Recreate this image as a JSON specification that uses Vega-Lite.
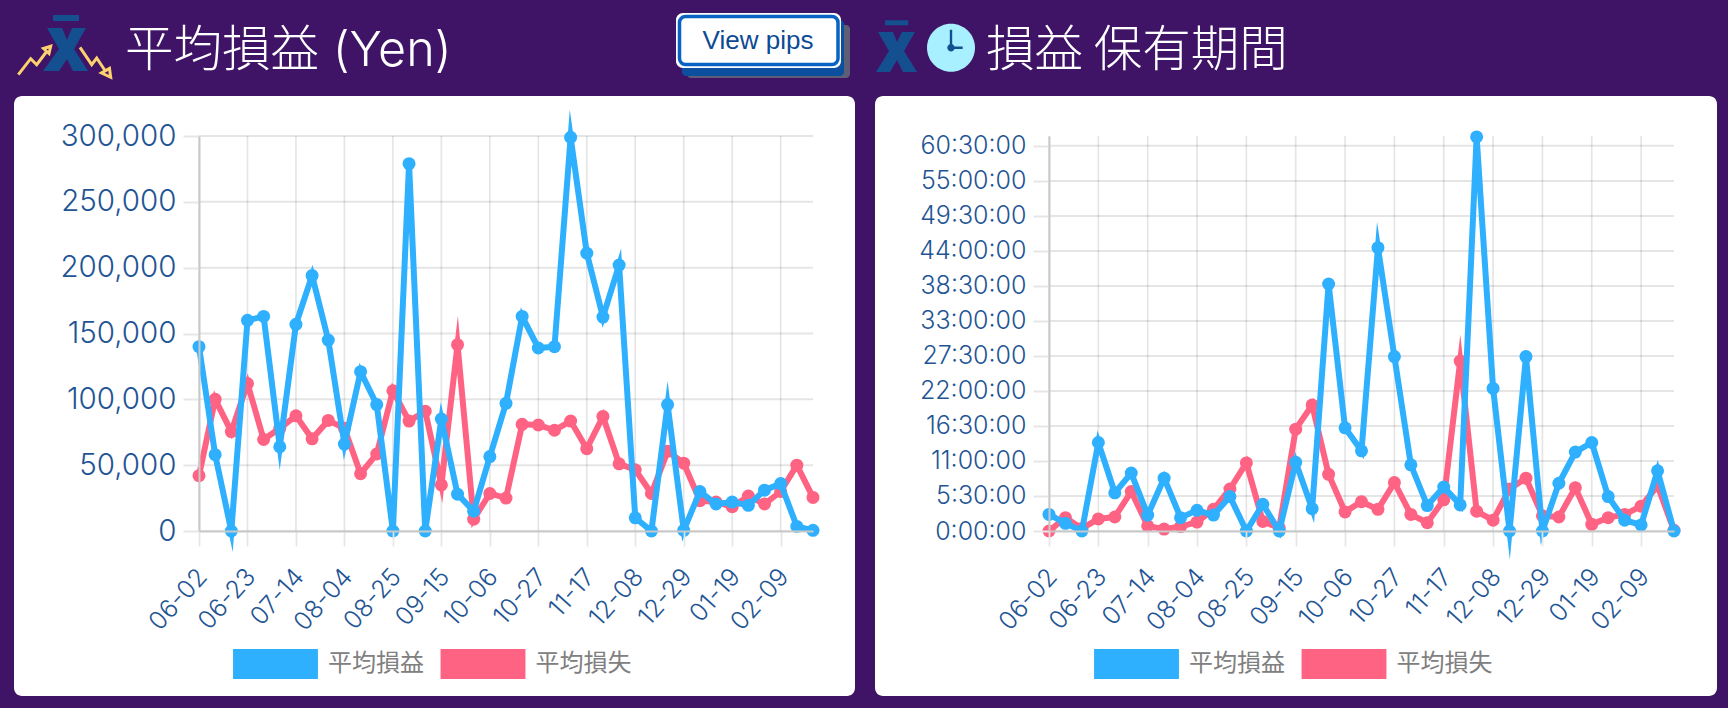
{
  "$schema": "https://vega.github.io/schema/vega-lite/v6.json",
  "description": "Average profit and loss per week, in yen and by holding time",
  "background": "#3f1466",
  "padding": 0,
  "bounds": "flush",
  "spacing": 236,
  "datasets": {
    "yen": [
      {"week":"06-02","gain":140000,"loss":42000},{"week":"06-09","gain":58000,"loss":100000},{"week":"06-16","gain":0,"loss":75500},
      {"week":"06-23","gain":160000,"loss":112000},{"week":"06-30","gain":163000,"loss":69500},{"week":"07-07","gain":64000,"loss":78000},
      {"week":"07-14","gain":157000,"loss":87500},{"week":"07-21","gain":194000,"loss":70000},{"week":"07-28","gain":145000,"loss":84000},
      {"week":"08-04","gain":66000,"loss":78000},{"week":"08-11","gain":121000,"loss":43500},{"week":"08-18","gain":96000,"loss":58500},
      {"week":"08-25","gain":0,"loss":106500},{"week":"09-01","gain":279000,"loss":83500},{"week":"09-08","gain":0,"loss":91000},
      {"week":"09-15","gain":85000,"loss":35000},{"week":"09-22","gain":28000,"loss":141500},{"week":"09-29","gain":15000,"loss":9000},
      {"week":"10-06","gain":56500,"loss":28500},{"week":"10-13","gain":97000,"loss":25000},{"week":"10-20","gain":163000,"loss":81000},
      {"week":"10-27","gain":139000,"loss":80500},{"week":"11-03","gain":140000,"loss":76500},{"week":"11-10","gain":299000,"loss":83500},
      {"week":"11-17","gain":211000,"loss":62500},{"week":"11-24","gain":162500,"loss":87000},{"week":"12-01","gain":202000,"loss":51000},
      {"week":"12-08","gain":10000,"loss":46500},{"week":"12-15","gain":0,"loss":28500},{"week":"12-22","gain":96000,"loss":60500},
      {"week":"12-29","gain":500,"loss":51500},{"week":"01-05","gain":30000,"loss":23000},{"week":"01-12","gain":20500,"loss":22000},
      {"week":"01-19","gain":22000,"loss":18500},{"week":"01-26","gain":19500,"loss":26500},{"week":"02-02","gain":31000,"loss":20500},
      {"week":"02-09","gain":36000,"loss":30000},{"week":"02-16","gain":3500,"loss":50000},{"week":"02-23","gain":500,"loss":25500}
    ],
    "hold": [
      {"week":"06-02","gain":2.6,"loss":0},{"week":"06-09","gain":1.2,"loss":2.1},{"week":"06-16","gain":0,"loss":0.4},
      {"week":"06-23","gain":13.9,"loss":1.9},{"week":"06-30","gain":6,"loss":2.2},{"week":"07-07","gain":9.1,"loss":6.2},
      {"week":"07-14","gain":2.5,"loss":0.8},{"week":"07-21","gain":8.3,"loss":0.3},{"week":"07-28","gain":2.1,"loss":0.7},
      {"week":"08-04","gain":3.25,"loss":1.4},{"week":"08-11","gain":2.5,"loss":3.4},{"week":"08-18","gain":5.4,"loss":6.6},
      {"week":"08-25","gain":0,"loss":10.7},{"week":"09-01","gain":4.2,"loss":1.5},{"week":"09-08","gain":0,"loss":0.5},
      {"week":"09-15","gain":10.8,"loss":16},{"week":"09-22","gain":3.5,"loss":19.8},{"week":"09-29","gain":38.8,"loss":8.9},
      {"week":"10-06","gain":16.2,"loss":3},{"week":"10-13","gain":12.6,"loss":4.6},{"week":"10-20","gain":44.5,"loss":3.4},
      {"week":"10-27","gain":27.4,"loss":7.6},{"week":"11-03","gain":10.4,"loss":2.6},{"week":"11-10","gain":4,"loss":1.3},
      {"week":"11-17","gain":6.9,"loss":4.9},{"week":"11-24","gain":4.1,"loss":26.7},{"week":"12-01","gain":61.9,"loss":3.1},
      {"week":"12-08","gain":22.4,"loss":1.7},{"week":"12-15","gain":0,"loss":6.6},{"week":"12-22","gain":27.4,"loss":8.3},
      {"week":"12-29","gain":0,"loss":2.4},{"week":"01-05","gain":7.5,"loss":2.2},{"week":"01-12","gain":12.4,"loss":6.8},
      {"week":"01-19","gain":13.9,"loss":1.05},{"week":"01-26","gain":5.4,"loss":2.1},{"week":"02-02","gain":1.7,"loss":2.6},
      {"week":"02-09","gain":0.95,"loss":3.9},{"week":"02-16","gain":9.45,"loss":7.1},{"week":"02-23","gain":0,"loss":0.1}
    ],
    "tickWeeks": [
      {"week":"06-02"},{"week":"06-23"},{"week":"07-14"},{"week":"08-04"},{"week":"08-25"},{"week":"09-15"},{"week":"10-06"},
      {"week":"10-27"},{"week":"11-17"},{"week":"12-08"},{"week":"12-29"},{"week":"01-19"},{"week":"02-09"}
    ],
    "yenTicks": [{"tick":0},{"tick":50000},{"tick":100000},{"tick":150000},{"tick":200000},{"tick":250000},{"tick":300000}],
    "holdTicks": [
      {"tick":0},{"tick":5.5},{"tick":11},{"tick":16.5},{"tick":22},{"tick":27.5},{"tick":33},{"tick":38.5},{"tick":44},{"tick":49.5},{"tick":55},{"tick":60.5}
    ]
  },
  "hconcat": [
    {
      "width": 614,
      "height": 395,
      "resolve": {"scale": {"x": "independent", "y": "independent"}},
      "layer": [
        {
          "data": {"values": [{"chrome": 1}]},
          "encoding": {
            "x": {"datum": 0, "type": "quantitative", "scale": {"domain": [0, 1728], "range": [-199, 1529]}, "axis": null},
            "y": {"datum": 0, "type": "quantitative", "scale": {"domain": [0, 708], "range": [-136, 572]}, "axis": null}
          },
          "layer": [
            {"mark": {"type": "rect", "color": "#3f1466"}, "encoding": {"x": {"datum": 0, "axis": null}, "x2": {"datum": 1728}, "y": {"datum": 0, "axis": null}, "y2": {"datum": 708}}},
            {"mark": {"type": "rect", "color": "#ffffff", "cornerRadius": 8}, "encoding": {"x": {"datum": 14, "axis": null}, "x2": {"datum": 855}, "y": {"datum": 96, "axis": null}, "y2": {"datum": 696}}},
            {"mark": {"type": "rect", "color": "#5c5f75", "cornerRadius": 4}, "encoding": {"x": {"datum": 687, "axis": null}, "x2": {"datum": 850}, "y": {"datum": 25, "axis": null}, "y2": {"datum": 78}}},
            {"mark": {"type": "rect", "color": "#0c4f9e", "cornerRadius": 4}, "encoding": {"x": {"datum": 682, "axis": null}, "x2": {"datum": 844}, "y": {"datum": 20, "axis": null}, "y2": {"datum": 76}}},
            {"mark": {"type": "rect", "color": "#ffffff", "cornerRadius": 7}, "encoding": {"x": {"datum": 676, "axis": null}, "x2": {"datum": 841}, "y": {"datum": 13, "axis": null}, "y2": {"datum": 68}}},
            {"mark": {"type": "rect", "fill": "#ffffff", "stroke": "#0a62c4", "strokeWidth": 3.5, "cornerRadius": 6}, "encoding": {"x": {"datum": 679.5, "axis": null}, "x2": {"datum": 838, "axis": null}, "y": {"datum": 16.5, "axis": null}, "y2": {"datum": 64.5}}},
            {"mark": {"type": "text", "text": "View pips", "font": "Liberation Sans", "fontSize": 26, "color": "#0d4a94", "align": "center", "baseline": "alphabetic"}, "encoding": {"x": {"datum": 758, "axis": null}, "y": {"datum": 49, "axis": null}}},
            {"mark": {"type": "text", "text": "平均損益 (Yen)", "font": "Inter, Noto Sans CJK JP", "fontSize": 48.5, "fontWeight": 300, "color": "#ffffff", "align": "left", "baseline": "alphabetic"}, "encoding": {"x": {"datum": 125, "axis": null}, "y": {"datum": 66, "axis": null}}},
            {"mark": {"type": "point", "filled": true, "opacity": 1, "size": 4, "color": "#14508f", "shape": "M53,15H79V21H53Z M47,28L62,28L67,40L72,28L86,28L74,49L88,71L73,71L67,59L59,71L43,71L59,49Z"}},
            {"mark": {"type": "point", "filled": false, "opacity": 1, "size": 4, "color": "#fdd26e", "strokeWidth": 3, "shape": "M18.3,74.7L30.7,58.7L36.7,64.7L47,51M43.5,48.5L50.7,46.3L49,53.5Z M80,47.3L91.7,64.7L96.7,58L106,72M101.5,73L110.7,77.3L109.5,68.5Z"}}
          ]
        },
        {
          "data": {"name": "yen"},
          "layer": [
            {
              "data": {"name": "tickWeeks"},
              "mark": {"type": "rule", "color": "#000000", "opacity": 0.1, "strokeWidth": 1.7},
              "encoding": {
                "x": {
                  "field": "week", "type": "ordinal", "title": null,
                  "scale": {"type": "point", "padding": 0, "domain": ["06-02","06-09","06-16","06-23","06-30","07-07","07-14","07-21","07-28","08-04","08-11","08-18","08-25","09-01","09-08","09-15","09-22","09-29","10-06","10-13","10-20","10-27","11-03","11-10","11-17","11-24","12-01","12-08","12-15","12-22","12-29","01-05","01-12","01-19","01-26","02-02","02-09","02-16","02-23"]},
                  "axis": {
                    "orient": "bottom",
                    "values": ["06-02","06-23","07-14","08-04","08-25","09-15","10-06","10-27","11-17","12-08","12-29","01-19","02-09"],
                    "grid": false, "zindex": 1, "domainColor": "#c9c9c9", "domainWidth": 2,
                    "tickSize": 15, "tickWidth": 1.7, "tickColor": "#e6e6e6",
                    "labelAngle": -48, "labelAlign": "right", "labelBaseline": "middle", "labelPadding": 26, "labelOffset": 3, "labelOverlap": false,
                    "labelFont": "Inter", "labelFontWeight": 300, "labelFontSize": 25, "labelColor": "#1f5594"
                  }
                }
              }
            },
            {
              "data": {"name": "yenTicks"},
              "mark": {"type": "rule", "color": "#000000", "opacity": 0.1, "strokeWidth": 2},
              "encoding": {
                "y": {
                  "field": "tick", "type": "quantitative", "title": null,
                  "scale": {"domain": [0, 300000], "nice": false},
                  "axis": {
                    "orient": "left",
                    "values": [0, 50000, 100000, 150000, 200000, 250000, 300000], "tickCount": 14,
                    "labelExpr": "format(datum.value, ',')", "labelOverlap": false,
                    "grid": false, "zindex": 1, "domainColor": "#c9c9c9", "domainWidth": 2,
                    "tickSize": 16, "tickWidth": 2, "tickColor": "#e6e6e6",
                    "labelPadding": 7, "labelFont": "Inter", "labelFontWeight": 300, "labelFontSize": 29.5, "labelColor": "#1f5594"
                  }
                }
              }
            },
            {
              "mark": {"type": "line", "color": "#ff6384", "strokeWidth": 6, "strokeJoin": "miter", "strokeMiterLimit": 10},
              "encoding": {
                "x": {"field": "week", "type": "ordinal"},
                "y": {"field": "loss", "type": "quantitative"}
              }
            },
            {
              "mark": {"type": "point", "color": "#ff6384", "filled": true, "opacity": 1, "size": 169},
              "encoding": {
                "x": {"field": "week", "type": "ordinal"},
                "y": {"field": "loss", "type": "quantitative"}
              }
            },
            {
              "mark": {"type": "line", "color": "#2eb0ff", "strokeWidth": 6, "strokeJoin": "miter", "strokeMiterLimit": 10},
              "encoding": {
                "x": {"field": "week", "type": "ordinal"},
                "y": {"field": "gain", "type": "quantitative"}
              }
            },
            {
              "mark": {"type": "point", "filled": true, "opacity": 1, "size": 169},
              "encoding": {
                "x": {"field": "week", "type": "ordinal"},
                "y": {"field": "gain", "type": "quantitative"},
                "color": {
                  "datum": "平均損益",
                  "scale": {"domain": ["平均損益", "平均損失"], "range": ["#2eb0ff", "#ff6384"]},
                  "legend": {
                    "title": null, "orient": "none", "legendX": 61.5, "legendY": 513, "direction": "horizontal", "columns": 2, "padding": 0,
                    "symbolType": "M-2.83,-1H2.83V1H-2.83Z", "symbolSize": 900, "symbolStrokeWidth": 0, "symbolOpacity": 1,
                    "labelOffset": 37.5, "columnPadding": 15.5,
                    "labelFont": "Noto Sans CJK JP", "labelFontSize": 24, "labelColor": "#808080"
                  }
                }
              }
            }
          ]
        }
      ]
    },
    {
      "width": 625,
      "height": 395,
      "resolve": {"scale": {"x": "independent", "y": "independent"}},
      "layer": [
        {
          "data": {"values": [{"chrome": 1}]},
          "encoding": {
            "x": {"datum": 0, "type": "quantitative", "scale": {"domain": [0, 1728], "range": [-1049, 679]}, "axis": null},
            "y": {"datum": 0, "type": "quantitative", "scale": {"domain": [0, 708], "range": [-136, 572]}, "axis": null}
          },
          "layer": [
            {"mark": {"type": "rect", "color": "#ffffff", "cornerRadius": 8}, "encoding": {"x": {"datum": 875, "axis": null}, "x2": {"datum": 1717}, "y": {"datum": 96, "axis": null}, "y2": {"datum": 696}}},
            {"mark": {"type": "text", "text": "損益 保有期間", "font": "Noto Sans CJK JP", "fontSize": 48.5, "fontWeight": 300, "color": "#ffffff", "align": "left", "baseline": "alphabetic"}, "encoding": {"x": {"datum": 986, "axis": null}, "y": {"datum": 66, "axis": null}}},
            {"mark": {"type": "point", "filled": true, "opacity": 1, "size": 4, "color": "#14508f", "shape": "M885,20.3H908.3V25.3H885Z M878,32L893,32L897,42L902,32L915,32L904,51L917,72L903,72L897,60L890,72L876,72L889,51Z"}},
            {"mark": {"type": "point", "filled": true, "opacity": 1, "size": 4, "color": "#a8f0ff", "shape": "M927,47.7A24,24 0 1 1 975,47.7A24,24 0 1 1 927,47.7Z"}},
            {"mark": {"type": "point", "filled": true, "opacity": 1, "size": 4, "color": "#14508f", "shape": "M949.8,29.7H952.2V44.2A3.7,3.7 0 0 1 954.5,46.5H962.7V48.9H954.5A3.7,3.7 0 1 1 949.8,44.2Z"}}
          ]
        },
        {
          "data": {"name": "hold"},
          "layer": [
            {
              "data": {"name": "tickWeeks"},
              "mark": {"type": "rule", "color": "#000000", "opacity": 0.1, "strokeWidth": 1.7},
              "encoding": {
                "x": {
                  "field": "week", "type": "ordinal", "title": null,
                  "scale": {"type": "point", "padding": 0, "domain": ["06-02","06-09","06-16","06-23","06-30","07-07","07-14","07-21","07-28","08-04","08-11","08-18","08-25","09-01","09-08","09-15","09-22","09-29","10-06","10-13","10-20","10-27","11-03","11-10","11-17","11-24","12-01","12-08","12-15","12-22","12-29","01-05","01-12","01-19","01-26","02-02","02-09","02-16","02-23"]},
                  "axis": {
                    "orient": "bottom",
                    "values": ["06-02","06-23","07-14","08-04","08-25","09-15","10-06","10-27","11-17","12-08","12-29","01-19","02-09"],
                    "grid": false, "zindex": 1, "domainColor": "#c9c9c9", "domainWidth": 2,
                    "tickSize": 15, "tickWidth": 1.7, "tickColor": "#e6e6e6",
                    "labelAngle": -48, "labelAlign": "right", "labelBaseline": "middle", "labelPadding": 26, "labelOffset": 3, "labelOverlap": false,
                    "labelFont": "Inter", "labelFontWeight": 300, "labelFontSize": 25, "labelColor": "#1f5594"
                  }
                }
              }
            },
            {
              "data": {"name": "holdTicks"},
              "mark": {"type": "rule", "color": "#000000", "opacity": 0.1, "strokeWidth": 2},
              "encoding": {
                "y": {
                  "field": "tick", "type": "quantitative", "title": null,
                  "scale": {"domain": [0, 62.05], "nice": false},
                  "axis": {
                    "orient": "left",
                    "values": [0, 5.5, 11, 16.5, 22, 27.5, 33, 38.5, 44, 49.5, 55, 60.5], "tickCount": 14,
                    "labelExpr": "floor(datum.value) + ':' + (datum.value % 1 ? '30' : '00') + ':00'", "labelOverlap": false,
                    "grid": false, "zindex": 1, "domainColor": "#c9c9c9", "domainWidth": 2,
                    "tickSize": 16, "tickWidth": 2, "tickColor": "#e6e6e6",
                    "labelPadding": 7, "labelFont": "Inter", "labelFontWeight": 300, "labelFontSize": 25, "labelColor": "#1f5594"
                  }
                }
              }
            },
            {
              "mark": {"type": "line", "color": "#ff6384", "strokeWidth": 6, "strokeJoin": "miter", "strokeMiterLimit": 10},
              "encoding": {
                "x": {"field": "week", "type": "ordinal"},
                "y": {"field": "loss", "type": "quantitative"}
              }
            },
            {
              "mark": {"type": "point", "color": "#ff6384", "filled": true, "opacity": 1, "size": 169},
              "encoding": {
                "x": {"field": "week", "type": "ordinal"},
                "y": {"field": "loss", "type": "quantitative"}
              }
            },
            {
              "mark": {"type": "line", "color": "#2eb0ff", "strokeWidth": 6, "strokeJoin": "miter", "strokeMiterLimit": 10},
              "encoding": {
                "x": {"field": "week", "type": "ordinal"},
                "y": {"field": "gain", "type": "quantitative"}
              }
            },
            {
              "mark": {"type": "point", "filled": true, "opacity": 1, "size": 169},
              "encoding": {
                "x": {"field": "week", "type": "ordinal"},
                "y": {"field": "gain", "type": "quantitative"},
                "color": {
                  "datum": "平均損益",
                  "scale": {"domain": ["平均損益", "平均損失"], "range": ["#2eb0ff", "#ff6384"]},
                  "legend": {
                    "title": null, "orient": "none", "legendX": 72.5, "legendY": 513, "direction": "horizontal", "columns": 2, "padding": 0,
                    "symbolType": "M-2.83,-1H2.83V1H-2.83Z", "symbolSize": 900, "symbolStrokeWidth": 0, "symbolOpacity": 1,
                    "labelOffset": 37.5, "columnPadding": 15.5,
                    "labelFont": "Noto Sans CJK JP", "labelFontSize": 24, "labelColor": "#808080"
                  }
                }
              }
            }
          ]
        }
      ]
    }
  ],
  "resolve": {"scale": {"color": "independent"}},
  "config": {"view": {"stroke": null}}
}
